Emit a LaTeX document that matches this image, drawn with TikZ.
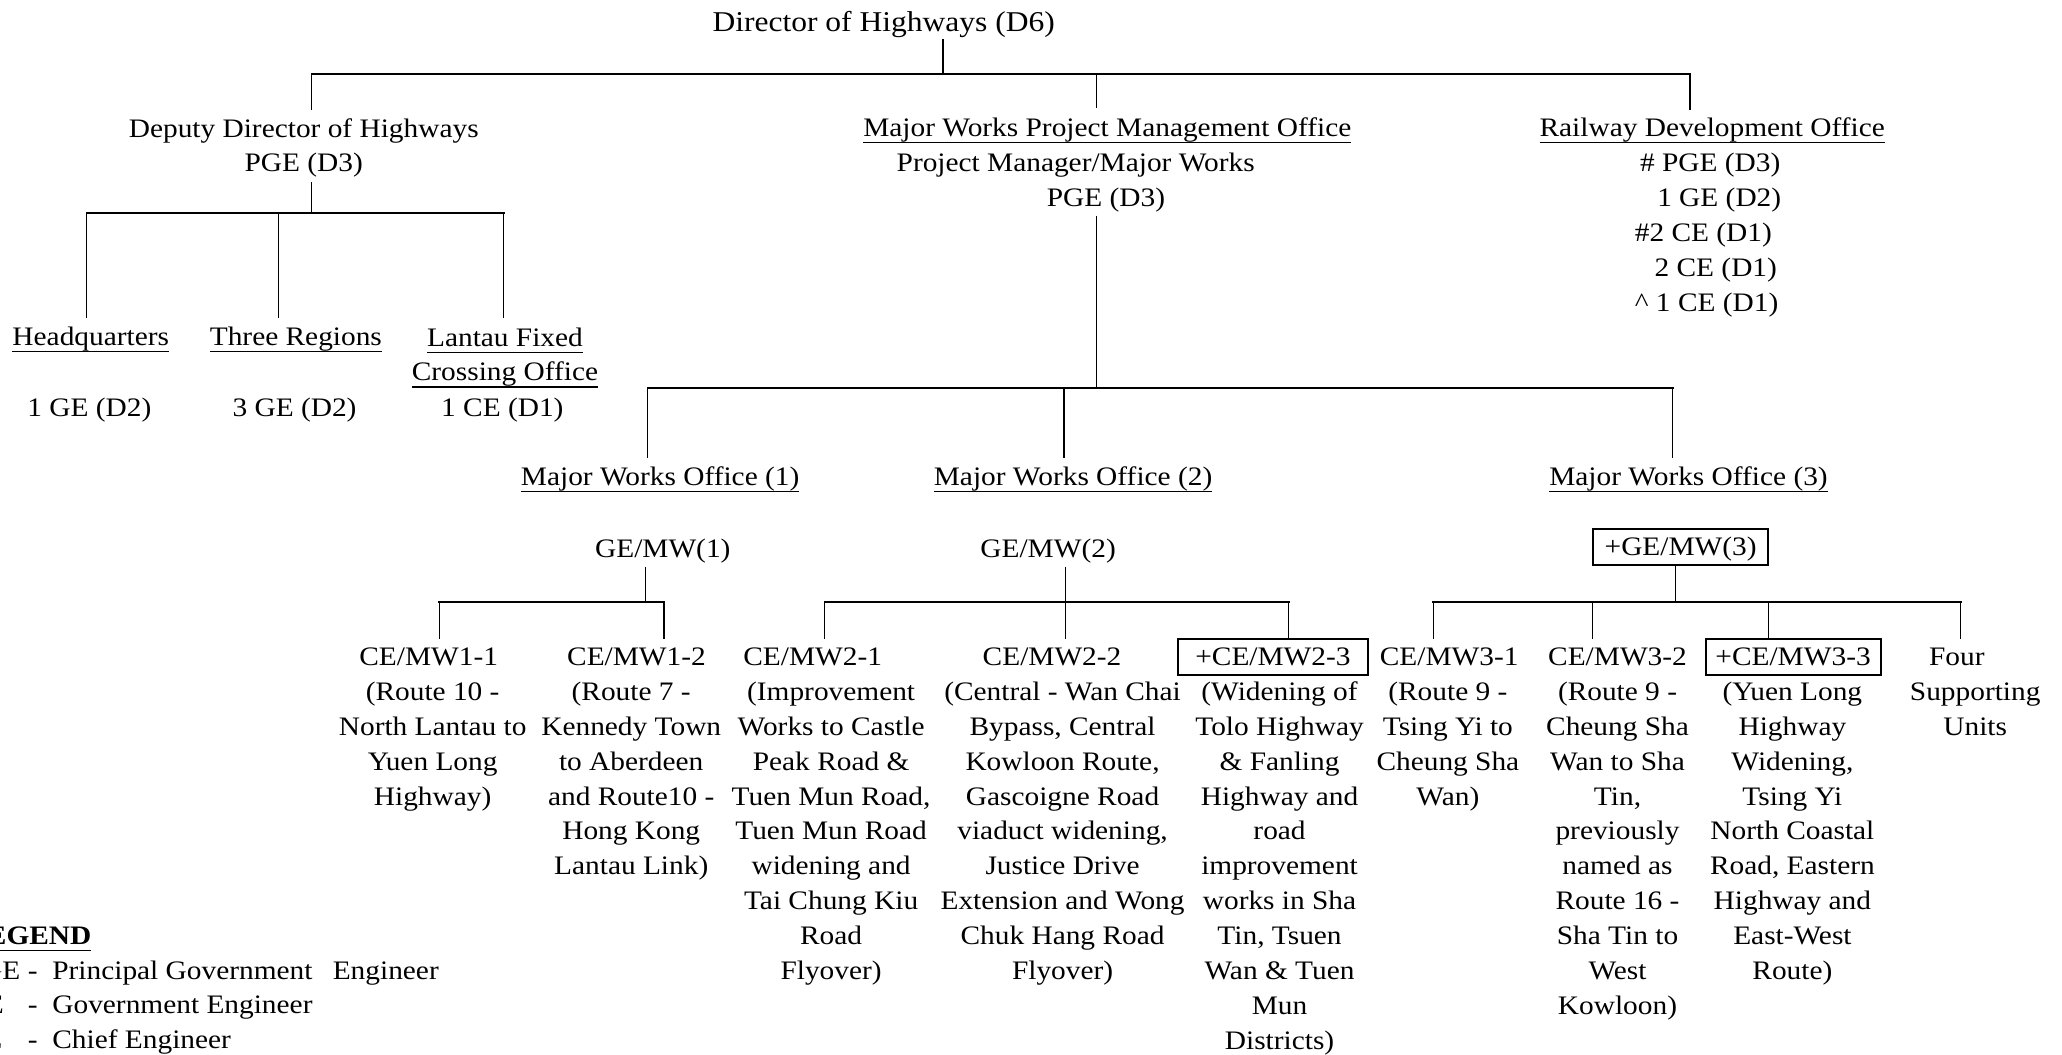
\documentclass[tikz,border=0pt]{standalone}
\usepackage{fontspec}
\setmainfont{Liberation Serif}[FakeStretch=1.1]
\newsavebox\ulbox
\newcommand\uline[1]{\sbox\ulbox{#1}\rlap{\usebox\ulbox}\rule[-5pt]{\wd\ulbox}{0.8pt}}
\newcommand\bodyfont{\fontsize{20.3}{26.5}\selectfont}
\newcommand\dirfont{\fontsize{21.8}{26}\selectfont}
\newcommand\mystrut{\rule{0pt}{15pt}}
\begin{document}
\begin{tikzpicture}[x=1pt,y=-1pt,
  pl/.style={inner sep=0pt,font=\bodyfont,anchor=base},
  txt/.style={inner sep=0pt,font=\bodyfont,align=center,anchor=north},
  hdr/.style={inner sep=0pt,font=\bodyfont,text height=13.5pt,text depth=0pt,minimum height=27.5pt},
  boxed/.style={draw,line width=1.5pt},
  vl/.style={line width=1pt},
  hl/.style={line width=1.5pt,line cap=rect}]
\path[fill=white] (0,0) rectangle (1568,802);
\useasboundingbox (0,0) rectangle (1568,802);

% ---------- top level ----------
\node[pl,font=\dirfont] (dir) at (672,24) {Director of Highways (D6)};
\coordinate (t0) at (717,56);
\coordinate (tA) at (237,56);
\coordinate (tB) at (834,56);
\coordinate (tC) at (1285,56);

\node[txt] (dep) at (231,89) {\mystrut Deputy Director of Highways\\PGE (D3)};
\node[pl] (mwt) at (842,104) {\uline{Major Works Project Management Office}};
\node[pl] (mwt2) at (818,130.5) {Project Manager/Major Works};
\node[pl] (mwt3) at (841,157) {PGE (D3)};
\node[pl] (rdo) at (1302,104) {\uline{Railway Development Office}};
\node[pl,anchor=base west] (rd1) at (1247,130.5) {\# PGE (D3)};
\node[pl,anchor=base west] (rd2) at (1260,157) {1 GE (D2)};
\node[pl,anchor=base west] (rd3) at (1243,183.5) {\#2 CE (D1)};
\node[pl,anchor=base west] (rd4) at (1258,210) {2 CE (D1)};
\node[pl,anchor=base west] (rd5) at (1243,236.5) {\textasciicircum\ 1 CE (D1)};

% ---------- deputy director branch ----------
\node[pl] (hq) at (69,263) {\uline{Headquarters}};
\node[pl] (hq2) at (68,317) {1 GE (D2)};
\node[pl] (tr) at (225,263) {\uline{Three Regions}};
\node[pl] (tr2) at (224,317) {3 GE (D2)};
\node[txt] (lf) at (384,248) {\mystrut\uline{Lantau Fixed}\\\uline{Crossing Office}};
\node[pl] (lf2) at (382,317) {1 CE (D1)};

% ---------- major works offices ----------
\node[pl] (mwo1) at (502,369) {\uline{Major Works Office (1)}};
\node[pl] (mwo2) at (816,369) {\uline{Major Works Office (2)}};
\node[pl] (mwo3) at (1284,369) {\uline{Major Works Office (3)}};
\node[pl] (ge1) at (504,424) {GE/MW(1)};
\node[pl] (ge2) at (797,424) {GE/MW(2)};
\node[hdr,boxed,minimum width=133pt,minimum height=27.3pt] (ge3) at (1278,416) {+GE/MW(3)};

% ---------- chief engineers ----------
\node[hdr] (c11) at (326,499.5) {CE/MW1-1};
\node[hdr] (c12) at (484,499.5) {CE/MW1-2};
\node[hdr] (c21) at (618,499.5) {CE/MW2-1};
\node[hdr] (c22) at (800,499.5) {CE/MW2-2};
\node[hdr,boxed,minimum width=145pt] (c23) at (968,499.5) {+CE/MW2-3};
\node[hdr] (c31) at (1102,499.5) {CE/MW3-1};
\node[hdr] (c32) at (1230,499.5) {CE/MW3-2};
\node[hdr,boxed,minimum width=133pt] (c33) at (1363.5,499.5) {+CE/MW3-3};
\node[hdr] (c34) at (1488,499.5) {Four};

\node[txt] (b11) at (329,517.5) {\mystrut(Route 10 -\\North Lantau to\\Yuen Long\\Highway)};
\node[txt] (b12) at (480,517.5) {\mystrut(Route 7 -\\Kennedy Town\\to Aberdeen\\and Route10 -\\Hong Kong\\Lantau Link)};
\node[txt] (b21) at (632,517.5) {\mystrut(Improvement\\Works to Castle\\Peak Road \&\\Tuen Mun Road,\\Tuen Mun Road\\widening and\\Tai Chung Kiu\\Road\\Flyover)};
\node[txt] (b22) at (808,517.5) {\mystrut(Central - Wan Chai\\Bypass, Central\\Kowloon Route,\\Gascoigne Road\\viaduct widening,\\Justice Drive\\Extension and Wong\\Chuk Hang Road\\Flyover)};
\node[txt] (b23) at (973,517.5) {\mystrut(Widening of\\Tolo Highway\\\& Fanling\\Highway and\\road\\improvement\\works in Sha\\Tin, Tsuen\\Wan \& Tuen\\Mun\\Districts)};
\node[txt] (b31) at (1101,517.5) {\mystrut(Route 9 -\\Tsing Yi to\\Cheung Sha\\Wan)};
\node[txt] (b32) at (1230,517.5) {\mystrut(Route 9 -\\Cheung Sha\\Wan to Sha\\Tin,\\previously\\named as\\Route 16 -\\Sha Tin to\\West\\Kowloon)};
\node[txt] (b33) at (1363,517.5) {\mystrut(Yuen Long\\Highway\\Widening,\\Tsing Yi\\North Coastal\\Road, Eastern\\Highway and\\East-West\\Route)};
\node[txt] (b34) at (1502,517.5) {\mystrut Supporting\\Units};

% ---------- legend ----------
\node[pl,anchor=base west,font=\bodyfont\bfseries] (lg) at (-25,718) {\uline{LEGEND}};
\node[pl,anchor=base west] (lg1) at (-27,744.5) {\makebox[48pt][l]{PGE}-\hspace{11.2pt}Principal Government\hspace{15.4pt}Engineer};
\node[pl,anchor=base west] (lg2) at (-27,771) {\makebox[48pt][l]{GE}-\hspace{11.2pt}Government Engineer};
\node[pl,anchor=base west] (lg3) at (-27,797.5) {\makebox[48pt][l]{CE}-\hspace{11.2pt}Chief Engineer};

% ---------- connectors ----------
\draw[vl,shorten <=1pt] (dir.south -| t0) -- (t0);
\draw[hl] (tA) -- (tC);
\draw[vl,shorten >=5pt] (tA) -- (tA |- dep.north);
\draw[vl,shorten >=7pt] (tB) -- (tB |- mwt.north);
\draw[vl,shorten >=6pt] (tC) -- (tC |- rdo.north);

\coordinate (d0) at (237,162);
\coordinate (d1) at (66,162);
\coordinate (d2) at (212,162);
\coordinate (d3) at (383,162);
\draw[vl,shorten <=3pt] (dep.south -| d0) -- (d0);
\draw[hl] (d1) -- (d3);
\draw[vl,shorten >=7pt] (d1) -- (d1 |- hq.north);
\draw[vl,shorten >=7pt] (d2) -- (d2 |- tr.north);
\draw[vl,shorten >=6pt] (d3) -- (d3 |- lf.north);

\coordinate (m0) at (834,295);
\coordinate (m1) at (492.5,295);
\coordinate (m2) at (809,295);
\coordinate (m3) at (1272,295);
\draw[vl,shorten <=2.4pt] (mwt3.south -| m0) -- (m0);
\draw[hl] (m1) -- (m3);
\draw[vl,shorten >=6pt] (m1) -- (m1 |- mwo1.north);
\draw[vl,shorten >=6pt] (m2) -- (m2 |- mwo2.north);
\draw[vl,shorten >=6pt] (m3) -- (m3 |- mwo3.north);

\coordinate (p0) at (491,458);
\coordinate (p1) at (334,458);
\coordinate (p2) at (505,458);
\draw[vl,shorten <=2.4pt] (ge1.south -| p0) -- (p0);
\draw[hl] (p1) -- (p2);
\draw[vl] (p1) -- (p1 |- c11.north);
\draw[vl] (p2) -- (p2 |- c12.north);

\coordinate (q0) at (810,458);
\coordinate (q1) at (627,458);
\coordinate (q2) at (980,458);
\draw[vl,shorten <=2.4pt] (ge2.south -| q0) -- (q0);
\draw[hl] (q1) -- (q2);
\draw[vl] (q1) -- (q1 |- c21.north);
\draw[vl] (q0) -- (q0 |- c22.north);
\draw[vl] (q2) -- (q2 |- c23.north);

\coordinate (r0) at (1274,458);
\coordinate (r1) at (1090,458);
\coordinate (r2) at (1211,458);
\coordinate (r3) at (1345,458);
\coordinate (r4) at (1491,458);
\draw[vl] (ge3.south -| r0) -- (r0);
\draw[hl] (r1) -- (r4);
\draw[vl] (r1) -- (r1 |- c31.north);
\draw[vl] (r2) -- (r2 |- c32.north);
\draw[vl] (r3) -- (r3 |- c33.north);
\draw[vl] (r4) -- (r4 |- c34.north);
\end{tikzpicture}
\end{document}
